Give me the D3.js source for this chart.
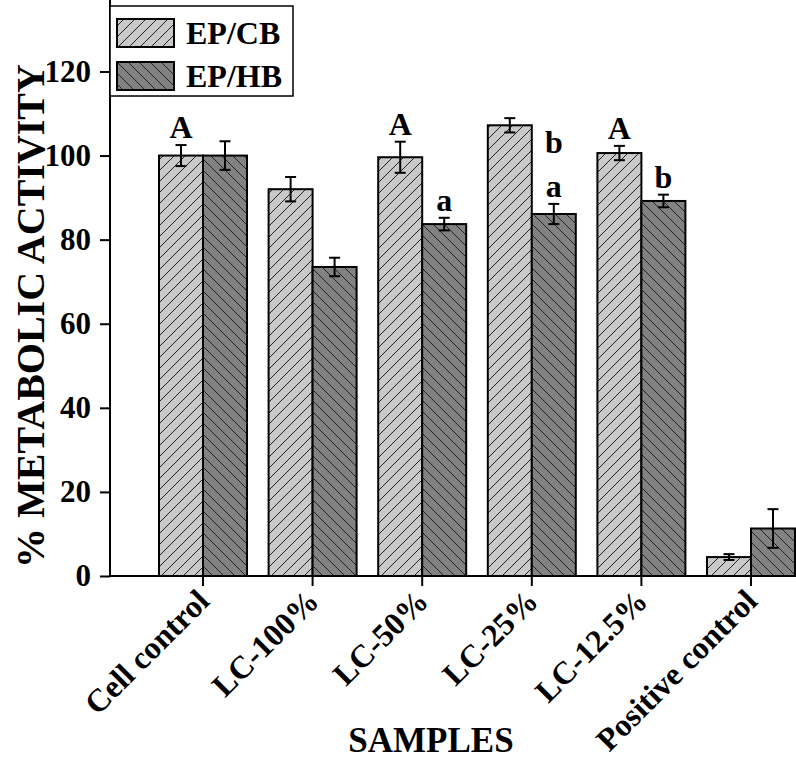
<!DOCTYPE html>
<html>
<head>
<meta charset="utf-8">
<script src="https://cdn.jsdelivr.net/npm/d3@7"></script>
<style>
  html, body { margin: 0; padding: 0; background: #fff; }
  svg { display: block; }
  text { font-family: "Liberation Serif", "Times New Roman", serif; font-weight: bold; fill: #000; }
</style>
</head>
<body>
<script>
const categories = ["Cell control", "LC-100%", "LC-50%", "LC-25%", "LC-12.5%", "Positive control"];
const seriesNames = ["EP/CB", "EP/HB"];
const epcbValues = [100, 92.0, 99.6, 107.2, 100.6, 4.5];
const epcbErrors = [2.5, 2.9, 3.7, 1.7, 1.7, 0.7];
const ephbValues = [100, 73.5, 83.7, 86.1, 89.2, 11.3];
const ephbErrors = [3.4, 2.2, 1.5, 2.4, 1.5, 4.6];
const yTicks = [0, 20, 40, 60, 80, 100, 120];
const annotCats = ["Cell control", "LC-50%", "LC-12.5%", "LC-50%", "LC-25%", "LC-25%", "LC-12.5%"];
const annotSeries = [0, 0, 0, 1, 1, 1, 1];
const annotLabels = ["A", "A", "A", "a", "a", "b", "b"];
const annotRows = [0, 0, 0, 0, 0, 1, 0];

const W = 796, H = 759;
const svg = d3.select("body").append("svg").attr("width", W).attr("height", H);

const defs = svg.append("defs");
function hatch(id, fill, dir) {
  const p = defs.append("pattern").attr("id", id).attr("patternUnits", "userSpaceOnUse")
    .attr("width", 11).attr("height", 11);
  p.append("rect").attr("width", 11).attr("height", 11).attr("fill", fill);
  const d = dir > 0 ? "M-1,12 L12,-1 M-6,6 L6,-6 M5,17 L17,5" : "M-1,-1 L12,12 M-6,5 L6,17 M5,-6 L17,6";
  p.append("path").attr("d", d).attr("stroke", "#222").attr("stroke-width", 1);
}
hatch("hLight", "#c9c9c9", 1);
hatch("hDark", "#828282", -1);
const fills = ["url(#hLight)", "url(#hDark)"];

const axisX0 = 110, baseY = 576;
const y = d3.scaleLinear().domain([0, 137]).range([baseY, 0]);
const step = 109.6;
const x0 = d3.scaleBand().domain(categories).range([203 - step / 2, 203 - step / 2 + step * 6])
  .paddingInner(1 - 88 / step).paddingOuter((1 - 88 / step) / 2);
const x1 = d3.scaleBand().domain([0, 1]).range([0, x0.bandwidth()]);

const values = [epcbValues, ephbValues];
const errors = [epcbErrors, ephbErrors];

const rows = [];
categories.forEach((c, i) => {
  [0, 1].forEach(s => rows.push({ cat: c, s, v: values[s][i], e: errors[s][i] }));
});

// bars
svg.append("g").selectAll("rect").data(rows).join("rect")
  .attr("x", d => x0(d.cat) + x1(d.s))
  .attr("y", d => y(d.v))
  .attr("width", x1.bandwidth())
  .attr("height", d => y(0) - y(d.v))
  .attr("fill", d => fills[d.s])
  .attr("stroke", "#000").attr("stroke-width", 2);

// error bars
const eg = svg.append("g").attr("stroke", "#000").attr("stroke-width", 2).attr("fill", "none");
rows.forEach(d => {
  const cx = x0(d.cat) + x1(d.s) + x1.bandwidth() / 2;
  const t = y(d.v + d.e), b = y(d.v - d.e);
  eg.append("line").attr("x1", cx).attr("x2", cx).attr("y1", t).attr("y2", b);
  eg.append("line").attr("x1", cx - 5.5).attr("x2", cx + 5.5).attr("y1", t).attr("y2", t);
  eg.append("line").attr("x1", cx - 5.5).attr("x2", cx + 5.5).attr("y1", b).attr("y2", b);
});

// significance letters
annotLabels.forEach((lab, k) => {
  const i = categories.indexOf(annotCats[k]);
  const s = annotSeries[k];
  const cx = x0(annotCats[k]) + x1(s) + x1.bandwidth() / 2;
  const top = y(values[s][i] + errors[s][i]);
  svg.append("text").attr("x", cx).attr("y", top - 7 - annotRows[k] * 44)
    .attr("text-anchor", "middle").attr("font-size", 32).text(lab);
});

// y axis
const yAxis = svg.append("g").attr("transform", `translate(${axisX0},0)`)
  .call(d3.axisLeft(y).tickValues(yTicks).tickSize(10).tickPadding(9).tickSizeOuter(0));
yAxis.select(".domain").remove();
yAxis.append("line").attr("x1", 0).attr("x2", 0).attr("y1", 0).attr("y2", baseY + 1)
  .attr("stroke", "#000").attr("stroke-width", 2);
yAxis.selectAll(".tick line").attr("stroke", "#000").attr("stroke-width", 2);
yAxis.selectAll(".tick text").attr("font-size", 31).attr("font-family", "Liberation Serif, serif")
  .attr("font-weight", "bold").attr("fill", "#000");

// x axis
const xAxis = svg.append("g").attr("transform", `translate(0,${baseY})`)
  .call(d3.axisBottom(x0).tickSize(10).tickSizeOuter(0).tickFormat(""));
xAxis.select(".domain").remove();
xAxis.append("line").attr("x1", axisX0 - 1).attr("x2", W).attr("y1", 0).attr("y2", 0)
  .attr("stroke", "#000").attr("stroke-width", 2);
xAxis.selectAll(".tick line").attr("stroke", "#000").attr("stroke-width", 2);

// category labels rotated
categories.forEach(c => {
  const cx = x0(c) + x0.bandwidth() / 2;
  svg.append("text")
    .attr("transform", `translate(${cx + 8},${baseY + 27}) rotate(-45)`)
    .attr("text-anchor", "end").attr("font-size", 32).text(c);
});

// axis titles
svg.append("text").attr("x", 431).attr("y", 752).attr("text-anchor", "middle")
  .attr("font-size", 35).text("SAMPLES");
svg.append("text").attr("transform", "translate(44,316) rotate(-90)")
  .attr("text-anchor", "middle").attr("font-size", 40).text("% METABOLIC ACTIVITY");

// legend
const lg = svg.append("g");
lg.append("rect").attr("x", axisX0).attr("y", 6).attr("width", 293 - axisX0).attr("height", 90)
  .attr("fill", "#fff").attr("stroke", "#000").attr("stroke-width", 1.5);
seriesNames.forEach((n, i) => {
  const yy = 19 + i * 43;
  lg.append("rect").attr("x", 117).attr("y", yy).attr("width", 57).attr("height", 28)
    .attr("fill", fills[i]).attr("stroke", "#000").attr("stroke-width", 2);
  lg.append("text").attr("x", 186).attr("y", yy + 25).attr("font-size", 32).text(n);
});
</script>
</body>
</html>
